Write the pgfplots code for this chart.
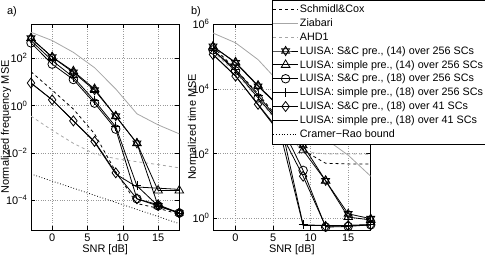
\documentclass[border=0pt]{standalone}
\usepackage{fontspec}
\setmainfont{Liberation Sans}
\usepackage{pgfplots}
\pgfplotsset{compat=1.18}
\newcommand{\fs}{\fontsize{11}{12}\selectfont}
\newcommand{\fl}{\fontsize{10.8}{12}\selectfont}
\pgfdeclareplotmark{hexa}{%
 \pgfpathmoveto{\pgfpointpolar{90}{\pgfplotmarksize}}%
 \pgfpathlineto{\pgfpointpolar{210}{\pgfplotmarksize}}%
 \pgfpathlineto{\pgfpointpolar{330}{\pgfplotmarksize}}%
 \pgfpathclose
 \pgfpathmoveto{\pgfpointpolar{270}{\pgfplotmarksize}}%
 \pgfpathlineto{\pgfpointpolar{30}{\pgfplotmarksize}}%
 \pgfpathlineto{\pgfpointpolar{150}{\pgfplotmarksize}}%
 \pgfpathclose
 \pgfusepathqstroke}
\tikzset{
 sc/.style={black, dashed, line width=0.8pt},
 zi/.style={gray!70, solid, line width=0.8pt},
 ahd/.style={gray!70, dashed, line width=0.8pt},
 lA/.style={black, line width=0.8pt, mark=hexa, mark size=4.6pt, mark options={solid}},
 lB/.style={black, line width=0.8pt, mark=triangle, mark size=5pt, mark options={solid}},
 lC/.style={black, line width=0.8pt, mark=o, mark size=4.3pt, mark options={solid}},
 lD/.style={black, line width=0.8pt, mark=+, mark size=4.5pt, mark options={solid}},
 lE/.style={black, line width=0.8pt, mark=diamond, mark size=5pt, mark options={solid}},
 lF/.style={black, line width=0.8pt},
 crb/.style={black, dotted, line width=0.8pt},
}
\begin{document}
\begin{tikzpicture}[x=1bp,y=1bp]
\path[use as bounding box] (0,0) rectangle (485,259);
\node[font=\fs] at (12,247) {a)};
\node[font=\fs] at (196,247) {b)};
% ---------------- left ----------------
\begin{axis}[scale only axis, anchor=south west, ymode=log,
  xmin=-3, xmax=18, xtick={0,5,10,15},
  grid=major, major grid style={dotted, gray!80, line width=0.5pt},
  axis line style={line width=1pt}, tick style={black, line width=0.5pt},
  tick label style={font=\fs}, label style={font=\fs},
  /pgf/number format/assume math mode=true,
  xlabel={SNR [dB]}, xlabel style={yshift=4pt},
 at={(31bp,29bp)}, width=148.3bp, height=206bp,
 ymin=5.37e-6, ymax=2818,
 ytick={1e-4,1e-2,1,1e2},
 yticklabels={10\textsuperscript{−4},10\textsuperscript{−2},10\textsuperscript{0},10\textsuperscript{2}},
 ylabel={Normalized frequency MSE}, ylabel style={at={(axis description cs:-0.168,0.5)}, anchor=center}]
\addplot[sc] coordinates {(-3,26.92) (0,4.467) (3,0.7079) (6,0.0631) (9,1.585e-3) (12,7.079e-5) (15,4.467e-5) (18,2.512e-5)};
\addplot[zi] coordinates {(-3,1259) (0,562.3) (3,177.8) (6,39.81) (9,5.012) (12,0.4467) (15,0.1514) (18,0.0631)};
\addplot[ahd] coordinates {(-3,0.3548) (0,0.08913) (3,0.02512) (6,8.913e-3) (9,5.623e-3) (12,4.169e-3) (15,3.162e-3) (18,2.291e-3)};
\addplot[lA] coordinates {(-3,707.9) (0,112.2) (3,25.12) (6,4.467) (9,0.3548) (12,0.02512) (15,5.623e-5) (18,2.818e-5)};
\addplot[lB] coordinates {(-3,707.9) (0,112.2) (3,28.18) (6,5.012) (9,0.3548) (12,0.02512) (15,2.512e-4) (18,2.512e-4)};
\addplot[lC] coordinates {(-3,446.7) (0,56.23) (3,12.59) (6,1.259) (9,0.1) (12,1.122e-4) (15,5.623e-5) (18,2.818e-5)};
\addplot[lD] coordinates {(-3,562.3) (0,79.43) (3,15.85) (6,1.585) (9,0.1259) (12,3.981e-4) (15,5.623e-5) (18,2.818e-5)};
\addplot[lE] coordinates {(-3,8.913) (0,1.738) (3,0.2239) (6,0.0302) (9,1.413e-3) (12,1.122e-4) (15,6.310e-5) (18,2.818e-5)};
\addplot[lF] coordinates {(-3,8.913) (0,1.738) (3,0.2239) (6,0.02818) (9,1.259e-3) (12,3.548e-4) (15,3.162e-4) (18,2.818e-4)};
\addplot[crb] coordinates {(-3,1.259e-3) (0,6.310e-4) (3,3.162e-4) (6,1.585e-4) (9,7.943e-5) (12,3.981e-5) (15,1.995e-5) (18,1e-5)};
\end{axis}
% ---------------- right ----------------
\begin{axis}[scale only axis, anchor=south west, ymode=log,
  xmin=-3, xmax=18, xtick={0,5,10,15},
  grid=major, major grid style={dotted, gray!80, line width=0.5pt},
  axis line style={line width=1pt}, tick style={black, line width=0.5pt},
  tick label style={font=\fs}, label style={font=\fs},
  /pgf/number format/assume math mode=true,
  xlabel={SNR [dB]}, xlabel style={yshift=4pt},
 at={(213bp,29bp)}, width=157.7bp, height=206bp,
 ymin=0.4365, ymax=1e6,
 ytick={1,1e2,1e4,1e6},
 yticklabels={10\textsuperscript{0},10\textsuperscript{2},10\textsuperscript{4},10\textsuperscript{6}},
 ylabel={Normalized time MSE}, ylabel style={at={(axis description cs:-0.133,0.5)}, anchor=center},
 legend cell align=left,
 legend image code/.code={\draw[mark repeat=2,mark phase=2] plot coordinates {(0cm,0cm) (0.44cm,0cm) (0.88cm,0cm)};},
 legend style={at={(0.374,1.117)}, anchor=north west, font=\fl, draw=black, line width=0.5pt, fill=white, inner xsep=0.5pt, inner ysep=3pt, row sep=0.6pt, nodes={inner xsep=1.5pt}}]
\addplot[sc] coordinates {(-3,199500) (0,39810) (3,7079) (6,1000) (9,125.9) (12,50.12) (15,47.86) (18,47.86)};
\addlegendentry{Schmidl\&Cox}
\addplot[zi] coordinates {(-3,524800) (0,263000) (3,79430) (6,14130) (9,1995) (12,281.8) (15,89.13) (18,19.95)};
\addlegendentry{Ziabari}
\addplot[ahd] coordinates {(-3,141300) (0,31620) (3,5012) (6,707.9) (9,112.2) (12,97.72) (15,97.72) (18,95.5)};
\addlegendentry{AHD1}
\addplot[lA] coordinates {(-3,204200) (0,63100) (3,12020) (6,2512) (9,177.8) (12,14.45) (15,1.380) (18,0.977)};
\addlegendentry{LUISA: S\&C pre., (14) over 256 SCs}
\addplot[lB] coordinates {(-3,199500) (0,66070) (3,12590) (6,2630) (9,125.9) (12,14.45) (15,1.096) (18,0.8913)};
\addlegendentry{LUISA: simple pre., (14) over 256 SCs}
\addplot[lC] coordinates {(-3,158500) (0,35480) (3,5248) (6,794.3) (9,30.2) (12,0.537) (15,0.5623) (18,0.631)};
\addlegendentry{LUISA: S\&C pre., (18) over 256 SCs}
\addplot[lD] coordinates {(-3,158500) (0,39810) (3,6310) (6,891.3) (9,0.631) (12,0.6026) (15,0.6026) (18,0.631)};
\addlegendentry{LUISA: simple pre., (18) over 256 SCs}
\addplot[lE] coordinates {(-3,114800) (0,24550) (3,3311) (6,446.7) (9,19.95) (12,0.5623) (15,0.6026) (18,0.631)};
\addlegendentry{LUISA: S\&C pre., (18) over 41 SCs}
\addplot[lF] coordinates {(-3,114800) (0,25120) (3,3162) (6,398.1) (9,0.6026) (12,0.6026) (15,0.6026) (18,0.631)};
\addlegendentry{LUISA: simple pre., (18) over 41 SCs}
\addlegendimage{crb}
\addlegendentry{Cramer−Rao bound}
\end{axis}
\end{tikzpicture}
\end{document}
